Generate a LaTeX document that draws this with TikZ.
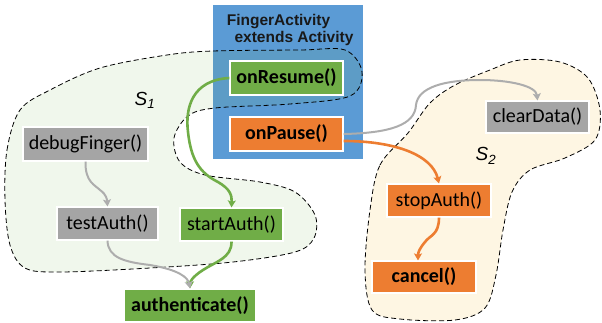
\documentclass[tikz,border=0pt]{standalone}
\usepackage{fontspec}
\setmainfont{Carlito}
\newfontfamily\arialfont{Liberation Sans}
\usetikzlibrary{arrows.meta}
\definecolor{actblue}{HTML}{5B9BD5}
\definecolor{cgreen}{HTML}{70AD47}
\definecolor{corange}{HTML}{ED7D31}
\definecolor{cgray}{HTML}{A5A5A5}
\definecolor{linkgray}{HTML}{ADADAD}
\definecolor{stwofill}{HTML}{FEF6E3}
\tikzset{
  method/.style={draw=white, line width=1.2pt, inner sep=0pt, text=black,
    font=\fontsize{20}{23}\selectfont},
  bold method/.style={method, font=\bfseries\fontsize{20}{23}\selectfont},
  setborder/.style={draw=black, line width=0.8pt, dash pattern=on 5pt off 3pt},
  tipstyle/.style={-{Stealth[length=7pt,width=8pt,inset=1.5pt]}},
  greenlink/.style={tipstyle, draw=cgreen, line width=2.6pt},
  orangelink/.style={tipstyle, draw=corange, line width=2.6pt},
  graylink/.style={tipstyle, draw=linkgray, line width=2pt},
  setlabel/.style={font=\arialfont\itshape\fontsize{19}{22}\selectfont, inner sep=0pt},
  titletext/.style={font=\arialfont\bfseries\fontsize{15.5}{18}\selectfont,
    text=black!90, inner sep=0pt}
}
\begin{document}
\begin{tikzpicture}[x=1pt, y=-1pt]
\useasboundingbox (0,0) rectangle (602,322);

% activity class box
\fill[actblue] (213,5) rectangle (363,159);
\node[titletext] (title1) at (278.5,22) {FingerActivity};
\node[titletext] (title2) at (294,38) {extends Activity};

% set S1
\path[fill=cgreen, fill opacity=0.1, setborder]
  plot[smooth cycle, tension=0.55] coordinates {
    (5,200) (7,150) (20,110) (50,90) (100,68) (167,55) (213,51) (300,50)
    (345,50) (362,72) (350,96) (290,104) (215,108) (188,116) (174,138)
    (180,162) (205,175) (260,182) (295,192) (315,215) (314,238) (295,252)
    (233,262) (150,268) (60,272) (25,268) (10,245)};

% set S2
\path[fill=stwofill, setborder]
  plot[smooth cycle, tension=0.55] coordinates {
    (370,210) (380,165) (408,133) (430,103) (455,85) (490,70) (520,60)
    (560,62) (588,78) (600,110) (595,140) (565,158) (530,170) (512,192)
    (503,230) (496,275) (485,308) (455,320) (400,319) (372,310) (365,270)};

\node[setlabel] (s1) at (145,100) {S\textsubscript{1}};
\node[setlabel] (s2) at (486,156) {S\textsubscript{2}};

% methods
\node[bold method, fill=cgreen, minimum width=113pt, minimum height=34pt] (onResume) at (286.5,78) {onResume()};
\node[bold method, fill=corange, minimum width=113pt, minimum height=34pt] (onPause) at (286.5,134) {onPause()};
\node[method, fill=cgray, minimum width=125pt, minimum height=34pt] (debugFinger) at (85.5,144) {debugFinger()};
\node[method, fill=cgray, minimum width=101pt, minimum height=33pt] (testAuth) at (107.5,223.5) {testAuth()};
\node[method, fill=cgreen, minimum width=103pt, minimum height=33pt] (startAuth) at (231.5,224.5) {startAuth()};
\node[bold method, fill=cgreen, minimum width=132pt, minimum height=33pt] (authenticate) at (190,305.5) {authenticate()};
\node[method, fill=cgray, minimum width=103pt, minimum height=32pt] (clearData) at (537.5,117) {clearData()};
\node[method, fill=corange, minimum width=104pt, minimum height=33pt] (stopAuth) at (439,200.5) {stopAuth()};
\node[bold method, fill=corange, minimum width=104pt, minimum height=32pt] (cancel) at (424,277) {cancel()};

% calls
\draw[greenlink] (onResume.west) .. controls (192,80) and (185,108) .. (188,132)
  .. controls (191,160) and (200,173) .. (218,182)
  .. controls (230,189) and (232,195) .. (startAuth.north);
\draw[greenlink] (startAuth.south) .. controls (232,258) and (215,262) .. (203,270)
  .. controls (192,277) and (190,282) .. (authenticate.north);
\draw[graylink] (debugFinger.south) .. controls (85,182) and (95,185) .. (100,190)
  .. controls (107,195) and (107,200) .. (testAuth.north);
\draw[graylink] (testAuth.south) .. controls (108,258) and (125,262) .. (150,265)
  .. controls (180,270) and (188,278) .. (authenticate.north);
\draw[graylink] (onPause.east) .. controls (390,133) and (415,125) .. (416,105)
  .. controls (418,87) and (445,80) .. (480,80)
  .. controls (510,80) and (536,86) .. (clearData.north);
\draw[orangelink] ([yshift=-7pt]onPause.east) .. controls (395,141) and (432,155) .. (stopAuth.north);
\draw[orangelink] (stopAuth.south) .. controls (439,235) and (430,235) .. (425,242)
  .. controls (420,248) and (418,252) .. ([xshift=-6pt]cancel.north);
\end{tikzpicture}
\end{document}
